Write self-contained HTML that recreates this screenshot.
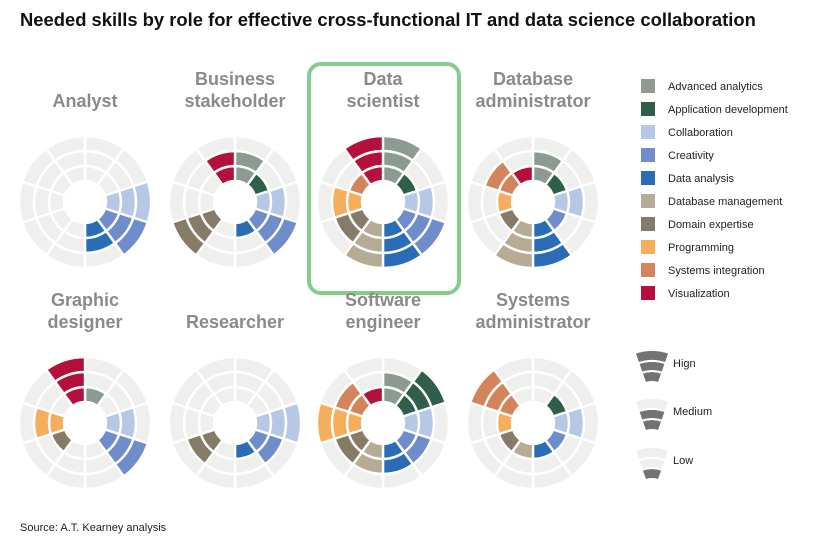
<!DOCTYPE html>
<html><head><meta charset="utf-8"><style>
body{margin:0;background:#fff;font-family:"Liberation Sans",Arial,sans-serif;}
#wrap{position:relative;width:840px;height:541px;overflow:hidden;}
</style></head><body>
<div id="wrap">
<svg id="svg" width="840" height="541" xmlns="http://www.w3.org/2000/svg">
<text x="20" y="26" font-size="18.4" font-weight="bold" fill="#111">Needed skills by role for effective cross-functional IT and data science collaboration</text>
<rect x="309" y="64" width="150" height="229" rx="12" fill="none" stroke="#86cc8e" stroke-width="4"/>
<g id="charts"></g>
<g id="legend"></g>
<text x="20" y="531" font-size="11" fill="#222">Source: A.T. Kearney analysis</text>
</svg>
</div>
<script>
const skills = ["Advanced analytics","Application development","Collaboration","Creativity","Data analysis","Database management","Domain expertise","Programming","Systems integration","Visualization"];
const skillColors = ["#8c9a92","#2f5e4a","#b7c8e6","#6f8ccb","#2a6db6","#b8ab95","#857b66","#f6ad5c","#d4845a","#b5103c"];
const roles = [["Analyst"],["Business","stakeholder"],["Data","scientist"],["Database","administrator"],["Graphic","designer"],["Researcher"],["Software","engineer"],["Systems","administrator"]];
const analyst = [0,0,3,3,2,0,0,0,0,0];
const businessStakeholder = [2,1,2,3,1,0,3,0,0,2];
const dataScientist = [3,1,2,3,3,3,2,2,1,3];
const databaseAdministrator = [2,1,2,1,3,3,1,1,2,1];
const graphicDesigner = [1,0,2,3,0,0,1,2,0,3];
const researcher = [0,0,3,2,1,0,2,0,0,0];
const softwareEngineer = [2,3,2,2,2,2,2,3,2,1];
const systemsAdministrator = [0,1,2,1,1,1,1,1,3,0];
const levelLabels = ["Low","Medium","Hign"];

const roleValues=[analyst,businessStakeholder,dataScientist,databaseAdministrator,graphicDesigner,researcher,softwareEngineer,systemsAdministrator];
const NS="http://www.w3.org/2000/svg";
const cxs=[85,235,383,533], cys=[202,423];
const radii=[21,36,51,66];
function arc(cx,cy,r0,r1,a0,a1){
  const p=(r,a)=>[cx+r*Math.sin(a),cy-r*Math.cos(a)];
  const [x0,y0]=p(r1,a0),[x1,y1]=p(r1,a1),[x2,y2]=p(r0,a1),[x3,y3]=p(r0,a0);
  return `M${x0},${y0}A${r1},${r1} 0 0 1 ${x1},${y1}L${x2},${y2}A${r0},${r0} 0 0 0 ${x3},${y3}Z`;
}
function mk(tag,attrs,parent){const e=document.createElementNS(NS,tag);for(const k in attrs)e.setAttribute(k,attrs[k]);parent.appendChild(e);return e;}
const charts=document.getElementById('charts');
roles.forEach((lines,ri)=>{
  const cx=cxs[ri%4], cy=cys[Math.floor(ri/4)];
  const g=mk('g',{},charts);
  
  
  const ty=cy-(lines.length===2?117:95);
  lines.forEach((l,li)=>{
    const t=mk('text',{x:cx,y:ty+li*22,'text-anchor':'middle','font-size':'18','font-weight':'bold',fill:'#8a8a8a'},g);
    t.textContent=l;
    
    
  });
  const vals=roleValues[ri];
  const step=2*Math.PI/10;
  for(let s=0;s<10;s++){
    for(let lv=0;lv<3;lv++){
      const filled=vals[s]>lv;
      const path=mk('path',{d:arc(cx,cy,radii[lv],radii[lv+1],s*step,(s+1)*step),fill:filled?skillColors[s]:'#eff0ee',stroke:'#fff','stroke-width':'2.4'},g);
      
      
    }
  }
});
const leg=document.getElementById('legend');
skills.forEach((s,i)=>{
  const y=79+i*23;
  const r=mk('rect',{x:641,y:y,width:14,height:14,fill:skillColors[i]},leg);
  
  
  const t=mk('text',{x:668,y:y+11,'font-size':'11',fill:'#222'},leg);
  t.textContent=s;
  
  
});
// level key
const keyR=[20,31,41,52];
[3,2,1].forEach((lvl,i)=>{
  const cy0=[402,450,499][i];
  const cx=652;
  for(let lv=0;lv<3;lv++){
    const p=mk('path',{d:arc(cx,cy0,keyR[lv],keyR[lv+1],-0.34,0.34),fill:lv<lvl?'#737373':'#eff0ee',stroke:'#fff','stroke-width':'2'},leg);
    
    
  }
  const t=mk('text',{x:673,y:cy0-35,'font-size':'11',fill:'#222'},leg);
  t.textContent=levelLabels[lvl-1];
  
  
});
</script>
</body></html>
